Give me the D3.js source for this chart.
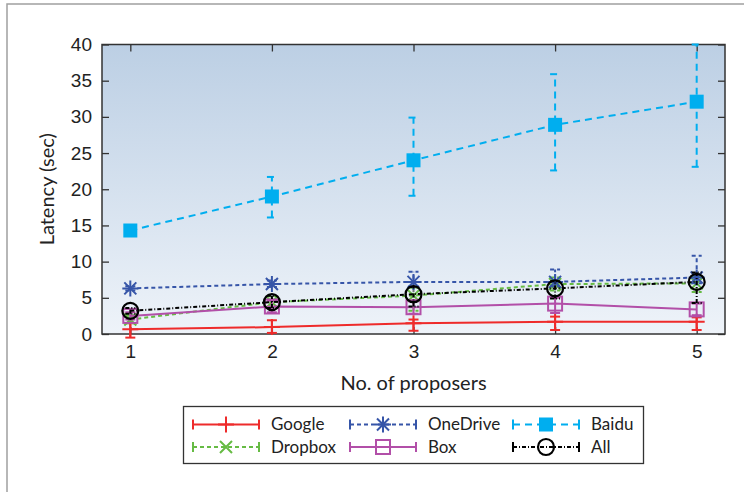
<!DOCTYPE html>
<html>
<head>
<meta charset="utf-8">
<script src="https://cdn.jsdelivr.net/npm/d3@7"></script>
<style>
  body { margin: 0; background: #fff; }
  svg { display: block; font-family: Lato, "Open Sans", sans-serif; }
</style>
</head>
<body>
<div id="chart"></div>
<script>
// values
var proposers = [1, 2, 3, 4, 5];
var yTicks = [0, 5, 10, 15, 20, 25, 30, 35, 40];

var googleMean = [0.65, 0.95, 1.5, 1.7, 1.7];
var googleLow  = [-0.5, 0.15, 0.45, 0.55, 0.55];
var googleHigh = [1.5, 1.9, 2.0, 2.4, 2.3];

var dropboxMean = [2.0, 4.4, 5.3, 6.9, 7.0];
var dropboxLow  = [1.5, 3.8, 3.2, 6.0, 5.8];
var dropboxHigh = [2.6, 5.2, 6.4, 7.8, 8.0];

var onedriveMean = [6.3, 6.9, 7.2, 7.2, 7.8];
var onedriveLow  = [6.0, 6.5, 6.6, 6.6, 7.0];
var onedriveHigh = [6.6, 7.4, 8.6, 8.9, 10.8];

var boxMean = [2.5, 3.8, 3.7, 4.2, 3.4];
var boxLow  = [2.0, 3.0, 2.8, 2.9, 2.6];
var boxHigh = [3.0, 4.6, 4.5, 5.0, 4.2];

var baiduMean = [14.3, 19.0, 24.0, 28.9, 32.1];
var baiduLow  = [13.9, 16.1, 19.1, 22.6, 23.1];
var baiduHigh = [14.7, 21.7, 29.9, 35.9, 40.0];

var allMean = [3.2, 4.4, 5.5, 6.3, 7.2];
var allLow  = [2.8, 3.6, 3.8, 4.9, 4.3];
var allHigh = [3.6, 5.3, 6.5, 7.3, 8.5];

var series = [
  { name: 'Google',   mean: googleMean,   low: googleLow,   high: googleHigh,   color: '#ee2b2b', dash: null,      marker: 'plus' },
  { name: 'Dropbox',  mean: dropboxMean,  low: dropboxLow,  high: dropboxHigh,  color: '#66bb44', dash: '4,3',     marker: 'cross' },
  { name: 'OneDrive', mean: onedriveMean, low: onedriveLow, high: onedriveHigh, color: '#3655a8', dash: '4,3',     marker: 'star' },
  { name: 'Box',      mean: boxMean,      low: boxLow,      high: boxHigh,      color: '#b24fa8', dash: null,      marker: 'square' },
  { name: 'Baidu',    mean: baiduMean,    low: baiduLow,    high: baiduHigh,    color: '#00aeef', dash: '7,5',     marker: 'fsquare' },
  { name: 'All',      mean: allMean,      low: allLow,      high: allHigh,      color: '#000000', dash: '4,2,1,2', marker: 'circle' }
];
var legendOrder = ['Google', 'OneDrive', 'Baidu', 'Dropbox', 'Box', 'All'];

var width = 744, height = 492;
var margin = {top: 44.5, right: 19, bottom: 158, left: 102};

var svg = d3.select('#chart').append('svg')
            .attr('width', width)
            .attr('height', height);

// outer frame
svg.append('rect')
   .attr('x', 7).attr('y', 4)
   .attr('width', 800).attr('height', 600)
   .attr('fill', 'none')
   .attr('stroke', '#a0a0a0')
   .attr('stroke-width', 1.5);

var x = d3.scaleLinear().domain([0.8, 5.2]).range([margin.left, width - margin.right]);
var y = d3.scaleLinear().domain([0, 40]).range([height - margin.bottom, margin.top]);

var grad = svg.append('defs').append('linearGradient')
              .attr('id', 'bg').attr('x1', 0).attr('y1', 0).attr('x2', 0).attr('y2', 1);
grad.append('stop').attr('offset', '0%').attr('stop-color', '#bccfe4');
grad.append('stop').attr('offset', '100%').attr('stop-color', '#eef3f9');

svg.append('rect')
   .attr('x', x.range()[0]).attr('y', y.range()[1])
   .attr('width', x.range()[1] - x.range()[0])
   .attr('height', y.range()[0] - y.range()[1])
   .attr('fill', 'url(#bg)');

// axes, ticks pointing inward on all four sides
var axisColor = '#333';
function styleAxis(g, showText) {
  g.select('.domain').remove();
  g.selectAll('.tick line').attr('stroke', axisColor).attr('stroke-width', 1.3);
  g.selectAll('.tick text').attr('fill', '#222').style('font-size', '19px');
  if (!showText) g.selectAll('.tick text').remove();
}
svg.append('g')
   .attr('transform', 'translate(0,' + y.range()[0] + ')')
   .call(d3.axisBottom(x).tickValues(proposers).tickSizeInner(-7).tickPadding(11).tickFormat(d3.format('d')))
   .call(styleAxis, true);
svg.append('g')
   .attr('transform', 'translate(0,' + y.range()[1] + ')')
   .call(d3.axisTop(x).tickValues(proposers).tickSizeInner(-7))
   .call(styleAxis, false);
svg.append('g')
   .attr('transform', 'translate(' + x.range()[0] + ',0)')
   .call(d3.axisLeft(y).tickValues(yTicks).tickSizeInner(-7).tickPadding(10))
   .call(styleAxis, true);
svg.append('g')
   .attr('transform', 'translate(' + x.range()[1] + ',0)')
   .call(d3.axisRight(y).tickValues(yTicks).tickSizeInner(-7))
   .call(styleAxis, false);

svg.append('rect')
   .attr('x', x.range()[0]).attr('y', y.range()[1])
   .attr('width', x.range()[1] - x.range()[0])
   .attr('height', y.range()[0] - y.range()[1])
   .attr('fill', 'none')
   .attr('stroke', axisColor)
   .attr('stroke-width', 1.5);

svg.append('text')
   .attr('transform', 'translate(54,' + ((y.range()[0] + y.range()[1]) / 2) + ') rotate(-90)')
   .attr('text-anchor', 'middle')
   .attr('fill', '#222')
   .style('font-size', '20px')
   .text('Latency (sec)');

svg.append('text')
   .attr('x', (x.range()[0] + x.range()[1]) / 2)
   .attr('y', 390)
   .attr('text-anchor', 'middle')
   .attr('fill', '#222')
   .style('font-size', '20px')
   .text('No. of proposers');

function drawMarker(g, type, color, cx, cy) {
  var s = 8;
  var m = g.append('g').attr('transform', 'translate(' + cx + ',' + cy + ')')
           .attr('stroke', color).attr('stroke-width', 2).attr('fill', 'none');
  if (type === 'plus' || type === 'star') {
    m.append('path').attr('d', 'M' + (-s) + ',0H' + s + 'M0,' + (-s) + 'V' + s);
  }
  if (type === 'cross' || type === 'star') {
    var k = s * 0.75;
    m.append('path').attr('d', 'M' + (-k) + ',' + (-k) + 'L' + k + ',' + k + 'M' + (-k) + ',' + k + 'L' + k + ',' + (-k));
  }
  if (type === 'square') {
    m.append('rect').attr('x', -7).attr('y', -7).attr('width', 14).attr('height', 14);
  }
  if (type === 'fsquare') {
    m.append('rect').attr('x', -7).attr('y', -7).attr('width', 14).attr('height', 14)
     .attr('fill', color).attr('stroke', 'none');
  }
  if (type === 'circle') {
    m.append('circle').attr('r', 8).attr('stroke-width', 2.2);
  }
}

var line = d3.line()
             .x(function(d, i) { return x(proposers[i]); })
             .y(function(d) { return y(d); });

series.forEach(function(s) {
  var g = svg.append('g').attr('class', 'series');
  g.append('path')
   .datum(s.mean)
   .attr('d', line)
   .attr('fill', 'none')
   .attr('stroke', s.color)
   .attr('stroke-width', 2)
   .attr('stroke-dasharray', s.dash);

  proposers.forEach(function(p, i) {
    var px = x(p);
    var eb = g.append('g').attr('stroke', s.color).attr('stroke-width', 2)
              .attr('stroke-dasharray', s.dash);
    eb.append('line').attr('x1', px).attr('x2', px)
      .attr('y1', y(s.low[i])).attr('y2', y(s.high[i]));
    [s.low[i], s.high[i]].forEach(function(v) {
      eb.append('line').attr('x1', px - 5).attr('x2', px + 5)
        .attr('y1', y(v)).attr('y2', y(v)).attr('stroke-dasharray', null);
    });
    drawMarker(g, s.marker, s.color, px, y(s.mean[i]));
  });
});

// legend
var legend = svg.append('g');
legend.append('rect')
      .attr('x', 183.5).attr('y', 406.5)
      .attr('width', 460).attr('height', 57)
      .attr('fill', '#fff')
      .attr('stroke', '#333')
      .attr('stroke-width', 1.3);

var colX = [193, 350, 513];
var rowY = [424.5, 447];
legendOrder.forEach(function(name, i) {
  var s = series.filter(function(d) { return d.name === name; })[0];
  var lx = colX[i % 3], ly = rowY[Math.floor(i / 3)];
  var lg = legend.append('g');
  lg.append('line')
    .attr('x1', lx).attr('x2', lx + 66)
    .attr('y1', ly).attr('y2', ly)
    .attr('stroke', s.color).attr('stroke-width', 2)
    .attr('stroke-dasharray', s.dash);
  [lx, lx + 66].forEach(function(cx) {
    lg.append('line')
      .attr('x1', cx).attr('x2', cx)
      .attr('y1', ly - 5).attr('y2', ly + 5)
      .attr('stroke', s.color).attr('stroke-width', 2);
  });
  drawMarker(lg, s.marker, s.color, lx + 33, ly);
  lg.append('text')
    .attr('x', lx + 78).attr('y', ly)
    .attr('dy', '0.35em')
    .attr('fill', '#222')
    .style('font-size', '17px')
    .text(s.name);
});
</script>
</body>
</html>
